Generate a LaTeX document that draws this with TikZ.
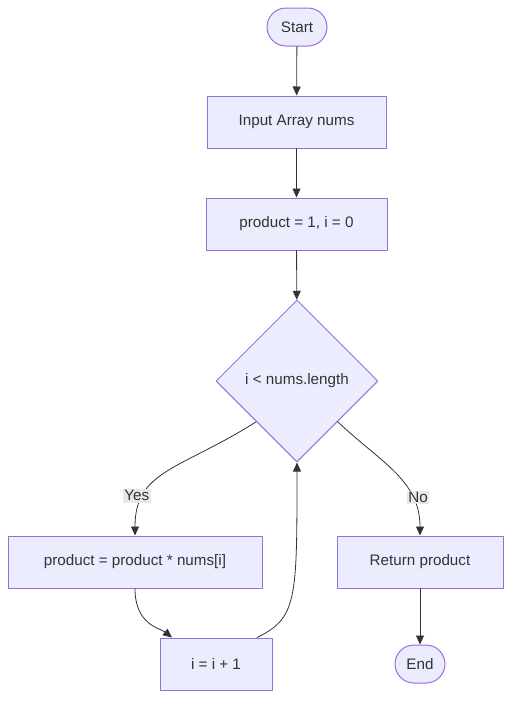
\documentclass[tikz,border=0pt]{standalone}
\usepackage{fontspec}
\setmainfont{Liberation Sans}
\usetikzlibrary{shapes.geometric, arrows.meta}
\definecolor{boxfill}{HTML}{ECECFF}
\definecolor{boxline}{HTML}{9370DB}
\definecolor{ink}{HTML}{333333}
\definecolor{labelbg}{HTML}{E8E8E8}
\tikzset{
	stepbox/.style={draw=boxline, fill=boxfill, line width=1, minimum height=52, text=ink, font=\fontsize{15.2}{18}\selectfont},
	termbox/.style={draw=boxline, fill=boxfill, line width=1, rounded corners=19, minimum height=38, text=ink, font=\fontsize{15.2}{18}\selectfont},
	flow/.style={->, draw=ink, line width=0.8},
	edgelabel/.style={fill=labelbg, text=ink, inner sep=1.5, font=\fontsize{15.2}{18}\selectfont}
}
\begin{document}
\begin{tikzpicture}[x=1pt, y=-1pt, line join=round, line cap=round, >={Stealth[length=9, width=8, inset=0]}]
		
		\useasboundingbox (0,0) rectangle (519,710);
		
		\node[termbox, minimum width=60] (start) at (297,27) {Start};
		\node[stepbox, minimum width=179] (input) at (296.5,122) {Input Array nums};
		\node[stepbox, minimum width=181] (init) at (296.5,224) {product = 1, i = 0};
		\node[draw=boxline, fill=boxfill, line width=1, shape=diamond, inner sep=0,
		minimum width=162, minimum height=162, text=ink,
		font=\fontsize{15.2}{18}\selectfont] (cond) at (297,381) {i < nums.length};
		\node[stepbox, minimum width=254] (mult) at (135,562) {product = product * nums[i]};
		\node[stepbox, minimum width=166] (ret) at (420,562) {Return product};
		\node[stepbox, minimum width=112] (inc) at (216,664) {i = i + 1};
		\node[termbox, minimum width=50] (stop) at (420,664) {End};
		
		\draw[flow] (start) -- (input);
		\draw[flow] (input) -- (init);
		\draw[flow] (init) -- (cond);
		
		% Yes / No
		\draw[flow] (cond.south west) .. controls (180,470) and (135,470) .. (mult.north -| 135,0)
		node[pos=0.74, xshift=-7, edgelabel] {Yes};
		\draw[flow] (cond.south east) .. controls (380,462) and (420,480) .. (ret.north)
		node[pos=0.73, xshift=6, edgelabel] {No};
		
		% loop
		\draw[flow] (mult.south) .. controls (135,625) and (160,628) .. (inc.north west -| 172,0);
		\draw[flow] (inc.north east -| 257,0) .. controls (297,618) and (297,600) .. (cond.south);
		
		\draw[flow] (ret) -- (stop);
		
\end{tikzpicture}
\end{document}
